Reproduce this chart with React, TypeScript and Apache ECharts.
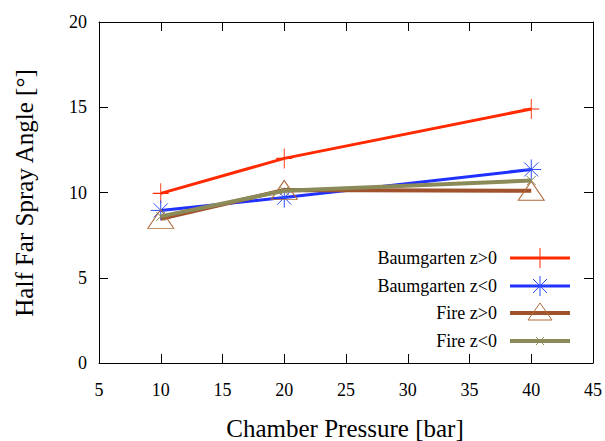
import React, { useEffect, useRef } from "react";
import * as echarts from "echarts";

const pressures = [10, 20, 40];
const baumPos = [9.95, 12.0, 14.9];
const baumNeg = [8.95, 9.7, 11.35];
const firePos = [8.45, 10.15, 10.1];
const fireNeg = [8.6, 10.1, 10.7];

const seriesNames = ["Baumgarten z>0", "Baumgarten z<0", "Fire z>0", "Fire z<0"];
const xTicks = { min: 5, max: 45, interval: 5 };
const yTicks = { min: 0, max: 20, interval: 5 };

const colors = ["#ff2a00", "#2030ff", "#a0522d", "#8b8b5a"];
const markerColors = ["#ff2a00", "#2a4cff", "#b06a3a", "#8b8b5a"];

const PLUS = "path://M0,-1L0,1M-1,0L1,0";
const STAR = "path://M0,-1L0,1M-1,0L1,0M-0.7,-0.7L0.7,0.7M-0.7,0.7L0.7,-0.7";
const TRI = "path://M0,-1L0.9,0.55L-0.9,0.55Z";
const CROSS = "path://M-1,-1L1,1M-1,1L1,-1";

const symbols = [PLUS, STAR, TRI, CROSS];
const symbolSizes: any[] = [[16, 20], [20, 20], [26, 19], [9, 9]];
const lineWidths = [3, 3, 4, 4];

const FONT = "'Liberation Serif', 'DejaVu Serif', serif";

export default function App() {
  const ref = useRef<HTMLDivElement>(null);
  useEffect(() => {
    const chart = echarts.init(ref.current!, undefined, { renderer: "svg" });
    const allData = [baumPos, baumNeg, firePos, fireNeg];
    const series: any[] = allData.map((vals, i) => ({
      name: seriesNames[i],
      type: "line",
      data: pressures.map((p, j) => [p, vals[j]]),
      symbol: symbols[i],
      symbolSize: symbolSizes[i],
      showSymbol: true,
      lineStyle: { color: colors[i], width: lineWidths[i] },
      itemStyle: { color: "none", borderColor: markerColors[i], borderWidth: 1 },
      z: 2 + i,
    }));

    const legendY = [258, 286, 313, 341];
    const legendGraphics: any[] = [];
    const mkX = 540;
    seriesNames.forEach((name, i) => {
      const y = legendY[i];
      legendGraphics.push({
        type: "text",
        x: 497,
        y,
        style: { text: name, font: `18px ${FONT}`, fill: "#000", textAlign: "right", textVerticalAlign: "middle" },
      });
      legendGraphics.push({
        type: "line",
        shape: { x1: 510, y1: y, x2: 570, y2: y },
        style: { stroke: colors[i], lineWidth: lineWidths[i] },
      });
    });
    const ms = { fill: "none", lineWidth: 1 };
    legendGraphics.push({ type: "line", shape: { x1: mkX, y1: 248, x2: mkX, y2: 268 }, style: { ...ms, stroke: markerColors[0] } });
    legendGraphics.push({ type: "line", shape: { x1: mkX, y1: 276, x2: mkX, y2: 296 }, style: { ...ms, stroke: markerColors[1] } });
    legendGraphics.push({ type: "line", shape: { x1: mkX - 10, y1: 286, x2: mkX + 10, y2: 286 }, style: { ...ms, stroke: markerColors[1] } });
    legendGraphics.push({ type: "line", shape: { x1: mkX - 7, y1: 279, x2: mkX + 7, y2: 293 }, style: { ...ms, stroke: markerColors[1] } });
    legendGraphics.push({ type: "line", shape: { x1: mkX - 7, y1: 293, x2: mkX + 7, y2: 279 }, style: { ...ms, stroke: markerColors[1] } });
    legendGraphics.push({ type: "polygon", shape: { points: [[mkX, 303], [mkX + 12, 320], [mkX - 12, 320]] }, style: { ...ms, stroke: markerColors[2] } });
    legendGraphics.push({ type: "line", shape: { x1: mkX - 4, y1: 337, x2: mkX + 4, y2: 345 }, style: { ...ms, stroke: markerColors[3] } });
    legendGraphics.push({ type: "line", shape: { x1: mkX - 4, y1: 345, x2: mkX + 4, y2: 337 }, style: { ...ms, stroke: markerColors[3] } });

    const axisCommon = {
      type: "value",
      splitLine: { show: false },
      axisLine: { show: true, onZero: false, lineStyle: { color: "#000", width: 1 } },
      axisTick: { show: true, inside: true, length: 9, lineStyle: { color: "#000" } },
    };

    chart.setOption({
      animation: false,
      backgroundColor: "#fff",
      grid: { left: 99, right: 8, top: 22, bottom: 78, show: false },
      xAxis: [
        {
          ...axisCommon,
          position: "bottom",
          min: xTicks.min,
          max: xTicks.max,
          interval: xTicks.interval,
          axisLabel: { color: "#000", fontFamily: FONT, fontSize: 18, margin: 18 },
        },
        {
          ...axisCommon,
          position: "top",
          min: xTicks.min,
          max: xTicks.max,
          interval: xTicks.interval,
          axisLabel: { show: false },
        },
      ],
      yAxis: [
        {
          ...axisCommon,
          position: "left",
          min: yTicks.min,
          max: yTicks.max,
          interval: yTicks.interval,
          axisLabel: { color: "#000", fontFamily: FONT, fontSize: 18, margin: 12 },
        },
        {
          ...axisCommon,
          position: "right",
          min: yTicks.min,
          max: yTicks.max,
          interval: yTicks.interval,
          axisLabel: { show: false },
        },
      ],
      series,
      graphic: [
        {
          type: "text",
          x: 345,
          y: 428,
          style: { text: "Chamber Pressure [bar]", font: `25px ${FONT}`, fill: "#000", textAlign: "center", textVerticalAlign: "middle" },
        },
        {
          type: "text",
          x: 24,
          y: 193,
          rotation: Math.PI / 2,
          style: { text: "Half Far Spray Angle [°]", font: `25px ${FONT}`, fill: "#000", textAlign: "center", textVerticalAlign: "middle" },
        },
        ...legendGraphics,
      ],
    });
    return () => chart.dispose();
  }, []);
  return <div ref={ref} style={{ position: "fixed", left: 0, top: 0, width: 605, height: 441 }} />;
}
